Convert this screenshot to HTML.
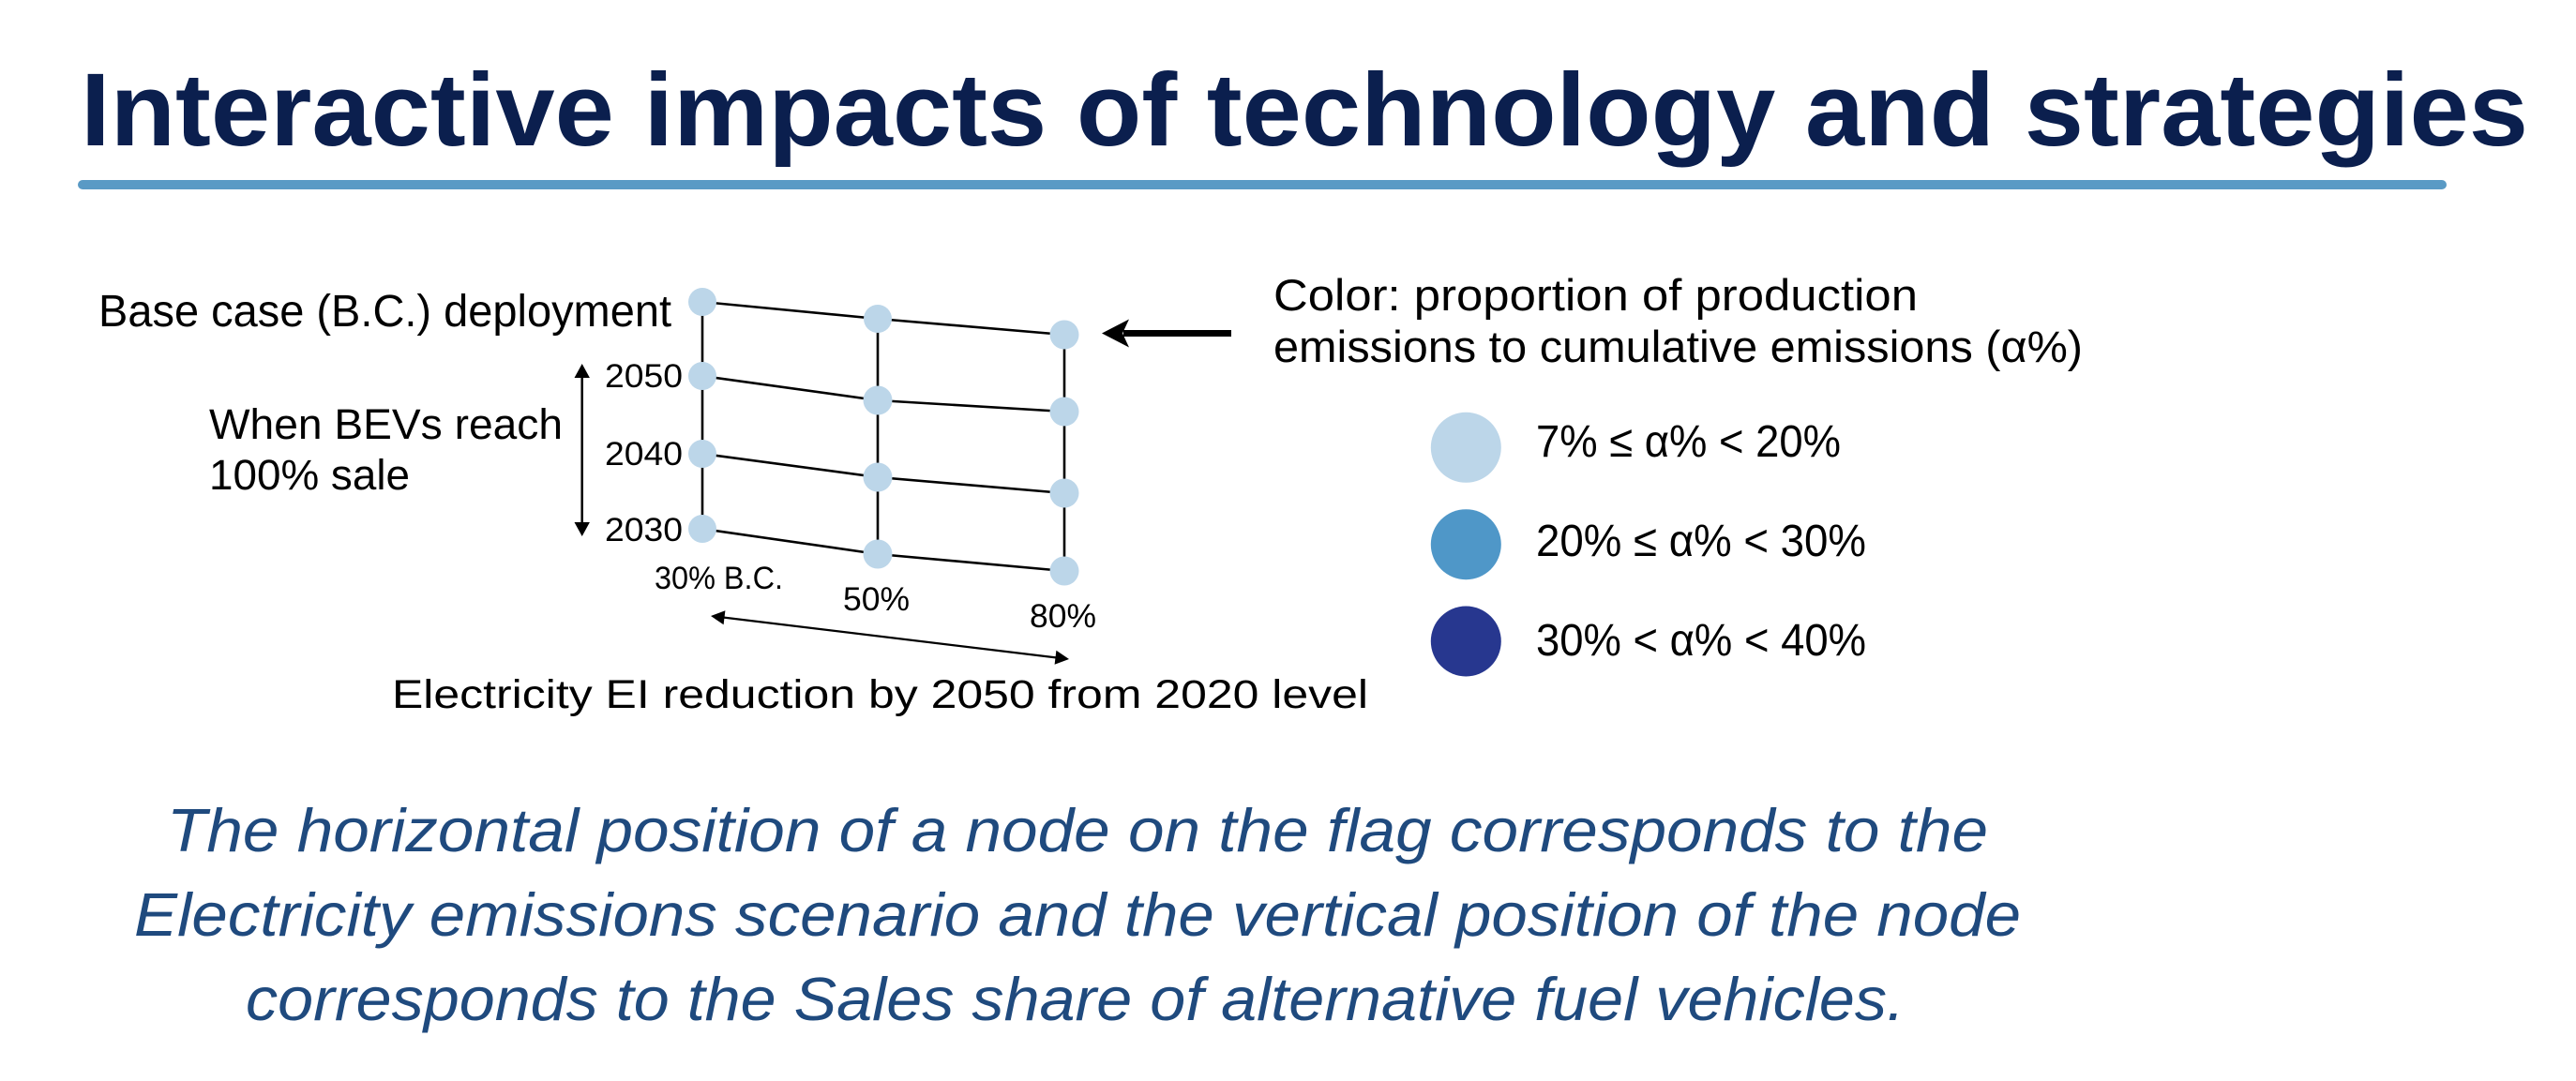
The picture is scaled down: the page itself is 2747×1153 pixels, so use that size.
<!DOCTYPE html>
<html>
<head>
<meta charset="utf-8">
<style>
  html, body { margin: 0; padding: 0; background: #ffffff; }
  body { width: 2747px; height: 1153px; overflow: hidden; }
  svg { display: block; }
  text { font-family: "Liberation Sans", "DejaVu Sans", sans-serif; }
</style>
</head>
<body>
<svg width="2747" height="1153" viewBox="0 0 2747 1153" xmlns="http://www.w3.org/2000/svg">
  <rect x="0" y="0" width="2747" height="1153" fill="#ffffff"/>

  <!-- Title -->
  <text x="86" y="155" font-size="110" font-weight="bold" fill="#0b1f4e" textLength="2610" lengthAdjust="spacingAndGlyphs">Interactive impacts of technology and strategies</text>
  <rect x="83" y="192" width="2526" height="10" rx="5" ry="5" fill="#5a9ac5"/>

  <!-- Left labels -->
  <text x="105" y="348" font-size="48" fill="#000" textLength="611" lengthAdjust="spacingAndGlyphs">Base case (B.C.) deployment</text>
  <text x="223" y="468" font-size="45" fill="#000" textLength="377" lengthAdjust="spacingAndGlyphs">When BEVs reach</text>
  <text x="223" y="522" font-size="45" fill="#000" textLength="214" lengthAdjust="spacingAndGlyphs">100% sale</text>

  <!-- vertical double arrow -->
  <line x1="620.7" y1="400" x2="620.7" y2="560" stroke="#000" stroke-width="2.5"/>
  <polygon points="620.7,388 612.5,403 628.9,403" fill="#000"/>
  <polygon points="620.7,572 612.5,557 628.9,557" fill="#000"/>

  <!-- year labels -->
  <text x="645" y="413" font-size="35" fill="#000" textLength="83" lengthAdjust="spacingAndGlyphs">2050</text>
  <text x="645" y="496" font-size="35" fill="#000" textLength="83" lengthAdjust="spacingAndGlyphs">2040</text>
  <text x="645" y="577" font-size="35" fill="#000" textLength="83" lengthAdjust="spacingAndGlyphs">2030</text>

  <!-- grid lines: vertical -->
  <g stroke="#000" stroke-width="2.6" fill="none">
    <line x1="749" y1="322" x2="749" y2="564"/>
    <line x1="936" y1="340" x2="936" y2="591"/>
    <line x1="1135" y1="357" x2="1135" y2="609"/>
    <!-- horizontal rows -->
    <polyline points="749,322 936,340 1135,357"/>
    <polyline points="749,401 936,427 1135,439"/>
    <polyline points="749,484 936,509 1135,526"/>
    <polyline points="749,564 936,591 1135,609"/>
  </g>

  <!-- nodes -->
  <g fill="#bcd6e9">
    <circle cx="749" cy="322" r="15"/>
    <circle cx="749" cy="401" r="15"/>
    <circle cx="749" cy="484" r="15"/>
    <circle cx="749" cy="564" r="15"/>
    <circle cx="936" cy="340" r="15"/>
    <circle cx="936" cy="427" r="15.5"/>
    <circle cx="936" cy="509" r="15.5"/>
    <circle cx="936" cy="591" r="15.5"/>
    <circle cx="1135" cy="357" r="15.5"/>
    <circle cx="1135" cy="439" r="15.5"/>
    <circle cx="1135" cy="526" r="15.5"/>
    <circle cx="1135" cy="609" r="15.5"/>
  </g>

  <!-- column labels -->
  <text x="698" y="628" font-size="34" fill="#000" textLength="137" lengthAdjust="spacingAndGlyphs">30% B.C.</text>
  <text x="899" y="651" font-size="35" fill="#000" textLength="71" lengthAdjust="spacingAndGlyphs">50%</text>
  <text x="1098" y="669" font-size="35" fill="#000" textLength="71" lengthAdjust="spacingAndGlyphs">80%</text>

  <!-- bottom double arrow (sloped) -->
  <line x1="770" y1="658.4" x2="1128" y2="701.6" stroke="#000" stroke-width="2.2"/>
  <polygon points="758,657 773.4,651.3 771.6,666.2" fill="#000"/>
  <polygon points="1140,703 1124.6,708.7 1126.4,693.8" fill="#000"/>

  <text x="418" y="755" font-size="43" fill="#000" textLength="1041" lengthAdjust="spacingAndGlyphs">Electricity EI reduction by 2050 from 2020 level</text>

  <!-- big arrow -->
  <line x1="1198" y1="355.5" x2="1313" y2="355.5" stroke="#000" stroke-width="7"/>
  <polygon points="1175,355.5 1204,340.5 1197,355.5 1204,370.5" fill="#000"/>

  <!-- Color description -->
  <text x="1358" y="331" font-size="47" fill="#000" textLength="687" lengthAdjust="spacingAndGlyphs">Color: proportion of production</text>
  <text x="1358" y="386" font-size="47" fill="#000" textLength="863" lengthAdjust="spacingAndGlyphs">emissions to cumulative emissions (α%)</text>

  <!-- legend -->
  <circle cx="1563.3" cy="477.3" r="37.5" fill="#bcd6e9"/>
  <circle cx="1563.3" cy="580.7" r="37.5" fill="#4f97c8"/>
  <circle cx="1563.3" cy="684" r="37.5" fill="#27378f"/>
  <text x="1638" y="487" font-size="48" fill="#000" textLength="325" lengthAdjust="spacingAndGlyphs">7% ≤ α% &lt; 20%</text>
  <text x="1638" y="593" font-size="48" fill="#000" textLength="352" lengthAdjust="spacingAndGlyphs">20% ≤ α% &lt; 30%</text>
  <text x="1638" y="699" font-size="48" fill="#000" textLength="352" lengthAdjust="spacingAndGlyphs">30% &lt; α% &lt; 40%</text>

  <!-- caption -->
  <g font-style="italic" fill="#1f4a7e" font-size="65">
    <text x="178" y="908" textLength="1942" lengthAdjust="spacingAndGlyphs">The horizontal position of a node on the flag corresponds to the</text>
    <text x="143" y="998" textLength="2012" lengthAdjust="spacingAndGlyphs">Electricity emissions scenario and the vertical position of the node</text>
    <text x="262" y="1088" textLength="1769" lengthAdjust="spacingAndGlyphs">corresponds to the Sales share of alternative fuel vehicles.</text>
  </g>
</svg>
</body>
</html>
